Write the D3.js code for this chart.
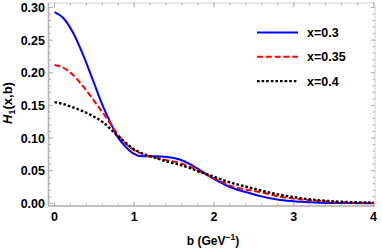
<!DOCTYPE html>
<html>
<head>
<meta charset="utf-8">
<script src="https://cdn.jsdelivr.net/npm/d3@7"></script>
<style>
  body { margin: 0; background: #fff; }
  text { font-family: "Liberation Sans", Arial, sans-serif; font-weight: bold; }
</style>
</head>
<body>
<script>
// b values (GeV^-1)
let bVals = [0, 0.11, 0.23, 0.36, 0.49, 0.61, 0.7, 0.78, 0.88, 0.98, 1.11, 1.26, 1.41, 1.57, 1.7, 1.82, 1.95, 2.08, 2.2, 2.45, 2.58, 2.83, 3.08, 3.33, 3.58, 4];

let h03 = [0.293, 0.284, 0.262, 0.227, 0.186, 0.148, 0.124, 0.104, 0.088, 0.077, 0.072, 0.072, 0.071, 0.067, 0.060, 0.051, 0.041, 0.032, 0.025, 0.0155, 0.011, 0.005, 0.0025, 0.001, 0.0005, 0.0002];
let h035 = [0.212, 0.208, 0.197, 0.179, 0.158, 0.138, 0.122, 0.108, 0.093, 0.083, 0.075, 0.070, 0.066, 0.062, 0.056, 0.049, 0.041, 0.034, 0.027, 0.020, 0.017, 0.010, 0.006, 0.0035, 0.0015, 0.0005];
let h04 = [0.155, 0.152, 0.147, 0.141, 0.133, 0.124, 0.114, 0.105, 0.094, 0.084, 0.076, 0.070, 0.064, 0.059, 0.054, 0.048, 0.043, 0.037, 0.032, 0.024, 0.020, 0.013, 0.008, 0.0045, 0.0025, 0.001];

let seriesNames = ["x=0.3", "x=0.35", "x=0.4"];
let seriesValues = [h03, h035, h04];
let colors = ["#0000ff", "#ff0000", "#000000"];
let dashes = [null, "6,2.8", "2.6,2"];
let widths = [2, 2, 2.4];

let xTicks = [0, 1, 2, 3, 4];
let yTicks = [0, 0.05, 0.1, 0.15, 0.2, 0.25, 0.3];

let width = 382, height = 250;
let frame = {left: 48.5, right: 375, top: 3, bottom: 206};

let x = d3.scaleLinear().domain([0, 4]).range([54.5, 373.5]);
let y = d3.scaleLinear().domain([0, 0.3]).range([203.3, 7.5]);

let svg = d3.select("body").append("svg")
    .attr("width", width)
    .attr("height", height);

let frameColor = "#b4b4b4";

// frame
svg.append("rect")
    .attr("x", frame.left).attr("y", frame.top)
    .attr("width", frame.right - frame.left)
    .attr("height", frame.bottom - frame.top)
    .style("fill", "none")
    .style("stroke", "#d0d0d0")
    .style("stroke-width", 1);

// ticks (inward, like a Mathematica frame)
let minorX = d3.range(0, 4.001, 0.2);
let minorY = d3.range(0, 0.3001, 0.01);

function tickLines(vals, len, pos, side) {
  svg.append("g").selectAll("line")
    .data(vals)
    .enter().append("line")
    .attr("x1", d => side == "b" || side == "t" ? x(d) : pos)
    .attr("x2", d => side == "b" || side == "t" ? x(d) : pos + (side == "l" ? len : -len))
    .attr("y1", d => side == "l" || side == "r" ? y(d) : pos)
    .attr("y2", d => side == "l" || side == "r" ? y(d) : pos + (side == "t" ? len : -len))
    .style("stroke", frameColor)
    .style("stroke-width", 1);
}

tickLines(minorX, 2.5, frame.bottom, "b");
tickLines(xTicks, 4.5, frame.bottom, "b");
tickLines(minorX, 2.5, frame.top, "t");
tickLines(xTicks, 4.5, frame.top, "t");
tickLines(minorY, 2.5, frame.left, "l");
tickLines(yTicks, 4.5, frame.left, "l");
tickLines(minorY, 2.5, frame.right, "r");
tickLines(yTicks, 4.5, frame.right, "r");

// thicker left / bottom frame
svg.append("line")
    .attr("x1", frame.left).attr("x2", frame.left)
    .attr("y1", frame.top).attr("y2", frame.bottom)
    .style("stroke", frameColor).style("stroke-width", 1.6);
svg.append("line")
    .attr("x1", frame.left).attr("x2", frame.right)
    .attr("y1", frame.bottom).attr("y2", frame.bottom)
    .style("stroke", frameColor).style("stroke-width", 1.6);

// tick labels
svg.append("g").selectAll("text")
    .data(xTicks)
    .enter().append("text")
    .attr("x", d => x(d))
    .attr("y", 221)
    .attr("text-anchor", "middle")
    .style("font-size", "12.5px")
    .text(d => d);

svg.append("g").selectAll("text")
    .data(yTicks)
    .enter().append("text")
    .attr("x", 45)
    .attr("y", d => y(d) + 4.5)
    .attr("text-anchor", "end")
    .style("font-size", "12.5px")
    .text(d => d3.format(".2f")(d));

// axis labels
let xl = svg.append("text")
    .attr("x", 213)
    .attr("y", 245)
    .attr("text-anchor", "middle")
    .style("font-size", "12px");
xl.append("tspan").text("b (GeV");
xl.append("tspan").attr("dy", -5).style("font-size", "8.5px").text("\u22121");
xl.append("tspan").attr("dy", 5).text(")");

let yl = svg.append("text")
    .attr("transform", "translate(12,103) rotate(-90)")
    .attr("text-anchor", "middle")
    .style("font-size", "13px");
yl.append("tspan").style("font-style", "italic").text("H");
yl.append("tspan").attr("dy", 3).style("font-size", "9px").text("1");
yl.append("tspan").attr("dy", -3).text("(x,b)");

// curves
let line = d3.line()
    .x((d, i) => x(bVals[i]))
    .y(d => y(d))
    .curve(d3.curveMonotoneX);

seriesValues.forEach(function(vals, k) {
  svg.append("path")
      .attr("d", line(vals))
      .style("fill", "none")
      .style("stroke", colors[k])
      .style("stroke-width", widths[k])
      .style("stroke-dasharray", dashes[k]);
});

// legend
let legend = svg.append("g");
seriesNames.forEach(function(name, k) {
  let ly = 32.5 + k * 24.3;
  legend.append("line")
      .attr("x1", 257).attr("x2", 298)
      .attr("y1", ly).attr("y2", ly)
      .style("stroke", colors[k])
      .style("stroke-width", widths[k])
      .style("stroke-dasharray", dashes[k]);
  legend.append("text")
      .attr("x", 307)
      .attr("y", ly + 4.5)
      .style("font-size", "12.5px")
      .text(name);
});
</script>
</body>
</html>
